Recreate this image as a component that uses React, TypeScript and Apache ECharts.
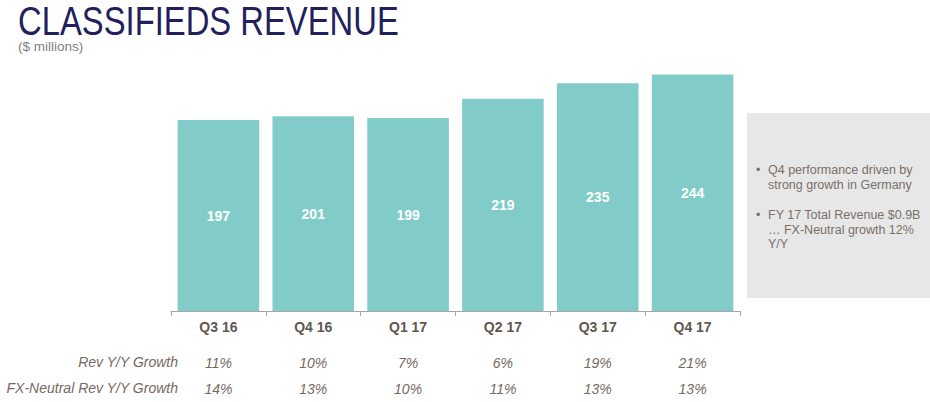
import React, { useEffect, useRef } from "react";
import * as echarts from "echarts";

const categories = ["Q3 16", "Q4 16", "Q1 17", "Q2 17", "Q3 17", "Q4 17"];
const revenue = [197, 201, 199, 219, 235, 244];
const revGrowth = ["11%", "10%", "7%", "6%", "19%", "21%"];
const fxGrowth = ["14%", "13%", "10%", "11%", "13%", "13%"];
const rowLabels = ["Rev Y/Y Growth", "FX-Neutral Rev Y/Y Growth"];
const bullets = [
  "Q4 performance driven by\nstrong growth in Germany",
  "FY 17 Total Revenue $0.9B\n\u2026 FX-Neutral growth 12%\nY/Y",
];

const TEXT = "#76695f";
const FONT = "'Liberation Sans', Arial, sans-serif";

export default function App() {
  const ref = useRef<HTMLDivElement>(null);
  useEffect(() => {
    const chart = echarts.init(ref.current!, undefined, { renderer: "svg" });
    const hiddenAxis = (labels: string[], margin: number) => ({
      type: "category",
      data: categories,
      position: "bottom",
      axisLine: { show: false },
      axisTick: { show: false },
      splitLine: { show: false },
      axisLabel: {
        margin,
        interval: 0,
        formatter: (_v: string, i: number) => labels[i],
        fontFamily: FONT,
        fontSize: 14,
        fontStyle: "italic",
        color: TEXT,
      },
    });
    chart.setOption({
      animation: false,
      grid: { left: 171, right: 190, top: 59, bottom: 91 },
      xAxis: [
        {
          type: "category",
          data: categories,
          position: "bottom",
          axisLine: { show: true, lineStyle: { color: "#a6a6a6", width: 1 } },
          axisTick: { show: true, length: 5, lineStyle: { color: "#a6a6a6" } },
          axisLabel: {
            margin: 9,
            interval: 0,
            fontFamily: FONT,
            fontSize: 14,
            fontWeight: "bold",
            color: "#5f5650",
          },
        },
        hiddenAxis(revGrowth, 45),
        hiddenAxis(fxGrowth, 71),
      ],
      yAxis: { type: "value", min: 0, max: 260, show: false },
      series: [
        {
          type: "bar",
          xAxisIndex: 0,
          data: revenue,
          barCategoryGap: "14%",
          itemStyle: { color: "#81ccc8" },
          label: {
            show: true,
            position: "inside",
            color: "#ffffff",
            fontFamily: FONT,
            fontWeight: "bold",
            fontSize: 14,
          },
        },
      ],
      graphic: [
        {
          type: "text",
          x: 18,
          y: 1,
          scaleX: 0.82,
          style: {
            text: "CLASSIFIEDS REVENUE",
            verticalAlign: "top",
            fontFamily: FONT,
            fontSize: 40,
            fill: "#231f5e",
          },
        },
        {
          type: "text",
          x: 18,
          y: 39,
          style: {
            text: "($ millions)",
            verticalAlign: "top",
            fontFamily: FONT,
            fontSize: 13.5,
            fill: "#808080",
          },
        },
        {
          type: "text",
          x: 178,
          y: 362,
          style: {
            text: rowLabels[0],
            align: "right",
            verticalAlign: "middle",
            fontFamily: FONT,
            fontSize: 14,
            fontStyle: "italic",
            fill: TEXT,
          },
        },
        {
          type: "text",
          x: 178,
          y: 388,
          style: {
            text: rowLabels[1],
            align: "right",
            verticalAlign: "middle",
            fontFamily: FONT,
            fontSize: 14,
            fontStyle: "italic",
            fill: TEXT,
          },
        },
        {
          type: "rect",
          shape: { x: 747, y: 113, width: 183, height: 185 },
          style: { fill: "#e7e7e7" },
        },
        {
          type: "text",
          x: 756,
          y: 163,
          style: { text: "\u2022", fontFamily: FONT, fontSize: 12.5, fill: "#7a7069" },
        },
        {
          type: "text",
          x: 768,
          y: 163,
          style: {
            text: bullets[0],
            fontFamily: FONT,
            fontSize: 12.5,
            lineHeight: 14.5,
            fill: "#7a7069",
          },
        },
        {
          type: "text",
          x: 756,
          y: 208,
          style: { text: "\u2022", fontFamily: FONT, fontSize: 12.5, fill: "#7a7069" },
        },
        {
          type: "text",
          x: 768,
          y: 208,
          style: {
            text: bullets[1],
            fontFamily: FONT,
            fontSize: 12.5,
            lineHeight: 14.5,
            fill: "#7a7069",
          },
        },
      ],
    });
    return () => chart.dispose();
  }, []);
  return (
    <div
      ref={ref}
      style={{ position: "fixed", left: 0, top: 0, width: 930, height: 402, background: "#fff" }}
    />
  );
}
